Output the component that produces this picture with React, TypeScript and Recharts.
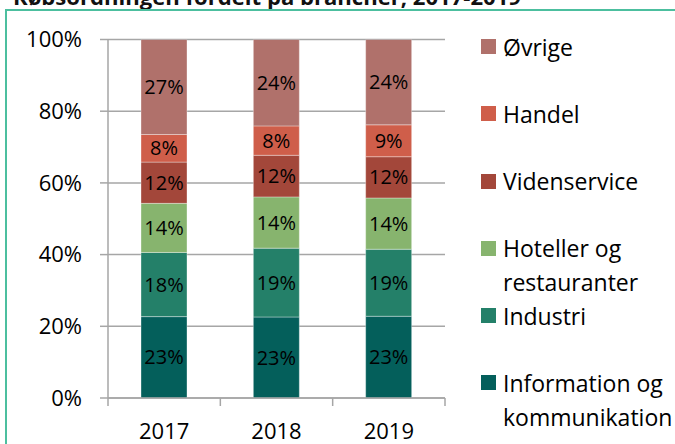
import React from "react";
import { BarChart, Bar, XAxis, YAxis, CartesianGrid, LabelList } from "recharts";

const years = ["2017", "2018", "2019"];
const seriesNames = [
  "Information og kommunikation",
  "Industri",
  "Hoteller og restauranter",
  "Videnservice",
  "Handel",
  "Øvrige",
];
const seriesKeys = ["info", "industri", "hotel", "viden", "handel", "ovrige"];
const seriesColors = ["#045f5b", "#248069", "#87b46e", "#a3473a", "#cf5e4a", "#b0716b"];

const infoValues = [22.7, 22.6, 22.8];
const industriValues = [17.9, 19.2, 18.7];
const hotelValues = [13.7, 14.3, 14.3];
const videnValues = [11.5, 11.6, 11.5];
const handelValues = [7.7, 8.2, 8.9];
const ovrigeValues = [26.5, 24.1, 23.8];

const yTicks = [0, 20, 40, 60, 80, 100];
const title = "Købsordningen fordelt på brancher, 2017-2019";

const allValues = [infoValues, industriValues, hotelValues, videnValues, handelValues, ovrigeValues];
const data = years.map((year, i) => {
  const row: Record<string, any> = { year };
  seriesKeys.forEach((k, s) => {
    row[k] = allValues[s][i];
  });
  return row;
});

const FONT = "'Open Sans', 'DejaVu Sans', sans-serif";
const GRAY = "#a6a6a6";
const X_TICK_SIZE = 8;
const X_TICK_MARGIN = 17;

const XTick = (props: any) => {
  const { x, y, payload, index, width, visibleTicksCount } = props;
  const band = (width ?? 337) / (visibleTicksCount ?? 3);
  const axisY = y - X_TICK_SIZE - X_TICK_MARGIN;
  return (
    <g>
      {index === 0 && (
        <line x1={x - band / 2} x2={x - band / 2} y1={axisY} y2={axisY + X_TICK_SIZE} stroke={GRAY} strokeWidth={1.5} />
      )}
      <line x1={x + band / 2} x2={x + band / 2} y1={axisY} y2={axisY + X_TICK_SIZE} stroke={GRAY} strokeWidth={1.5} />
      <text x={x} y={y} dy="0.71em" textAnchor="middle" fontSize={22} fill="#000" fontFamily={FONT}>
        {payload.value}
      </text>
    </g>
  );
};

const legendOrder = [5, 4, 3, 2, 1, 0];

export default function App() {
  return (
    <div
      style={{
        position: "absolute",
        left: 0,
        top: 0,
        width: 675,
        height: 444,
        overflow: "hidden",
        background: "#fff",
        fontFamily: FONT,
      }}
    >
      <svg width={675} height={20} style={{ position: "absolute", left: 0, top: 0 }}>
        <text x={13} y={5} fontSize={22} fontWeight="bold" fill="#111" fontFamily={FONT} textLength={508} lengthAdjust="spacingAndGlyphs">
          {title}
        </text>
      </svg>
      <div
        style={{
          position: "absolute",
          left: 5,
          top: 9,
          width: 720,
          height: 500,
          border: "2px solid #4cbf9f",
          boxSizing: "border-box",
        }}
      />
      <div style={{ position: "absolute", left: 0, top: 0 }}>
        <BarChart
          width={675}
          height={444}
          data={data}
          margin={{ top: 39.5, right: 230, bottom: 0, left: 0 }}
        >
          <CartesianGrid vertical={false} stroke={GRAY} strokeWidth={1.5} />
          <XAxis
            dataKey="year"
            height={46}
            tickLine={false}
            tickSize={X_TICK_SIZE}
            tickMargin={X_TICK_MARGIN}
            axisLine={{ stroke: GRAY, strokeWidth: 1.5 }}
            tick={<XTick />}
            interval={0}
          />
          <YAxis
            width={108}
            domain={[0, 100]}
            ticks={yTicks}
            tickFormatter={(v: number) => `${v}%`}
            tickSize={8}
            tickMargin={18}
            tickLine={{ stroke: GRAY, strokeWidth: 1.5 }}
            axisLine={{ stroke: GRAY, strokeWidth: 1.5 }}
            tick={{ fill: "#000", fontSize: 22, fontFamily: FONT }}
            allowDataOverflow
          />
          {seriesKeys.map((k, s) => (
            <Bar
              key={k}
              dataKey={k}
              name={seriesNames[s]}
              stackId="a"
              fill={seriesColors[s]}
              stroke="rgba(255,255,255,0.35)"
              strokeWidth={1}
              barSize={46}
              isAnimationActive={false}
            >
              <LabelList
                dataKey={k}
                position="center"
                formatter={(v: any) => `${Math.round(Number(v))}%`}
                style={{ fill: "#000", fontSize: 20, fontFamily: FONT }}
              />
            </Bar>
          ))}
        </BarChart>
      </div>
      {legendOrder.map((s, i) => (
        <div
          key={seriesKeys[s]}
          style={{
            position: "absolute",
            left: 481,
            top: 46.7 - 17 + i * 67.2,
            display: "flex",
            alignItems: "flex-start",
          }}
        >
          <div
            style={{
              width: 15,
              height: 15,
              marginTop: 9.5,
              background: seriesColors[s],
              flex: "none",
            }}
          />
          <div
            style={{
              marginLeft: 7,
              width: 175,
              fontSize: 23,
              lineHeight: "34px",
              color: "#000",
              whiteSpace: "normal",
            }}
          >
            {seriesNames[s]}
          </div>
        </div>
      ))}
    </div>
  );
}
